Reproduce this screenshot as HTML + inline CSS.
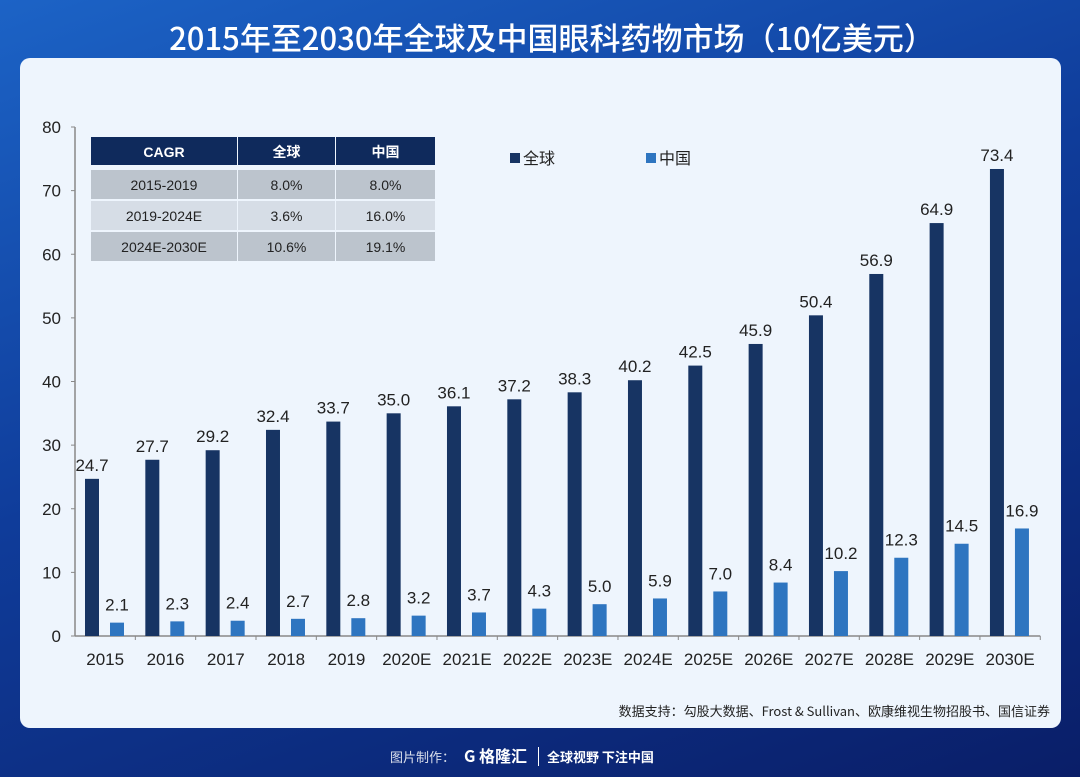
<!DOCTYPE html>
<html><head><meta charset="utf-8"><style>
body{margin:0;width:1080px;height:777px;overflow:hidden;font-family:"Liberation Sans","Noto Sans CJK SC",sans-serif;background:linear-gradient(160deg,#1c63c6 0%,#0f3c9a 45%,#0a1e68 100%);position:relative}
.title{position:absolute;top:14px;left:12px;width:1080px;text-align:center;color:#fff;font-size:31px;font-family:"Noto Sans CJK SC",sans-serif;font-weight:500}
.panel{position:absolute;left:20px;top:58px;width:1041px;height:670px;background:#eef5fd;border-radius:10px}
.footer{position:absolute;top:743px;left:390px;color:#fff;font-family:"Noto Sans CJK SC",sans-serif;font-size:13px}
</style></head><body>
<div class="title">2015年至2030年全球及中国眼科药物市场（10亿美元）</div>
<div class="panel"></div>
<svg id="chart" width="1080" height="777" style="position:absolute;left:0;top:0"></svg>
<div class="footer"><span style="opacity:.85">图片制作：</span> <b style="font-size:16px;margin-left:6px">G 格隆汇</b> <span style="border-left:1px solid #fff;margin:0 8px"></span> <b>全球视野 下注中国</b></div>
<script>
const categories=["2015","2016","2017","2018","2019","2020E","2021E","2022E","2023E","2024E","2025E","2026E","2027E","2028E","2029E","2030E"];
const globalVals=[24.7,27.7,29.2,32.4,33.7,35.0,36.1,37.2,38.3,40.2,42.5,45.9,50.4,56.9,64.9,73.4];
const chinaVals=[2.1,2.3,2.4,2.7,2.8,3.2,3.7,4.3,5.0,5.9,7.0,8.4,10.2,12.3,14.5,16.9];
const yTicks=[0,10,20,30,40,50,60,70,80];
const cagrRows=[["2015-2019","8.0%","8.0%"],["2019-2024E","3.6%","16.0%"],["2024E-2030E","10.6%","19.1%"]];
const svg=document.getElementById('chart');const NS="http://www.w3.org/2000/svg";
function mk(t,a,txt){const e=document.createElementNS(NS,t);for(const k in a)e.setAttribute(k,a[k]);if(txt!==undefined)e.textContent=txt;svg.appendChild(e);return e;}
const x0=75,cw=60.33,y0=636,yTop=127;
const y=v=>y0-(v/80)*(y0-yTop);
const xc=i=>x0+i*cw;
let e=mk('line',{x1:x0,y1:yTop,x2:x0,y2:y0,stroke:'#888','stroke-width':1.5});

e=mk('line',{x1:x0,y1:y0,x2:x0+16*cw,y2:y0,stroke:'#888','stroke-width':1.5});

yTicks.forEach(t=>{
 mk('line',{x1:x0-4,y1:y(t),x2:x0,y2:y(t),stroke:'#888'});
 e=mk('text',{x:61,y:y(t)+6,'text-anchor':'end','font-size':17,fill:'#222'},t);
 
});
categories.forEach((c,i)=>{
 mk('line',{x1:xc(i+1),y1:y0,x2:xc(i+1),y2:y0+4,stroke:'#888'});
 e=mk('rect',{x:xc(i)+10,y:y(globalVals[i]),width:14,height:y0-y(globalVals[i]),fill:'#173463'});
 
 e=mk('rect',{x:xc(i)+35,y:y(chinaVals[i]),width:14,height:y0-y(chinaVals[i]),fill:'#2e75c0'});
 
 e=mk('text',{x:xc(i)+17,y:y(globalVals[i])-8,'text-anchor':'middle','font-size':17,fill:'#222'},globalVals[i].toFixed(1));
 
 e=mk('text',{x:xc(i)+42,y:y(chinaVals[i])-12,'text-anchor':'middle','font-size':17,fill:'#222'},chinaVals[i].toFixed(1));
 
 e=mk('text',{x:xc(i)+cw/2,y:665,'text-anchor':'middle','font-size':17,fill:'#222'},c);
 
});
e=mk('rect',{x:510,y:153,width:10,height:10,fill:'#173463'});
e=mk('text',{x:523,y:164,'font-size':16,fill:'#222'},'全球');
e=mk('rect',{x:646,y:153,width:10,height:10,fill:'#2e75c0'});
e=mk('text',{x:659,y:164,'font-size':16,fill:'#222'},'中国');
const cx=[91,238,336],cwid=[146,97,99],rh=[28,31,31,31],ry=[137,170,201,232];
const head=["CAGR","全球","中国"];
for(let c=0;c<3;c++){
 e=mk('rect',{x:cx[c],y:ry[0],width:cwid[c],height:rh[0],fill:'#0f2a5c'});
 e=mk('text',{x:cx[c]+cwid[c]/2,y:ry[0]+20,'text-anchor':'middle','font-size':14,'font-weight':'bold',fill:'#fff'},head[c]);
}
cagrRows.forEach((r,i)=>{for(let c=0;c<3;c++){
 e=mk('rect',{x:cx[c],y:ry[i+1],width:cwid[c],height:rh[i+1]-2,fill:i%2?'#d6dde6':'#bcc4cd'});
 e=mk('text',{x:cx[c]+cwid[c]/2,y:ry[i+1]+20,'text-anchor':'middle','font-size':14,fill:'#222'},r[c]);
}});
e=mk('text',{x:1050,y:716,'text-anchor':'end','font-size':13,fill:'#222','font-family':'Noto Sans CJK SC, sans-serif'},'数据支持：勾股大数据、Frost & Sullivan、欧康维视生物招股书、国信证券');

</script>
</body></html>
